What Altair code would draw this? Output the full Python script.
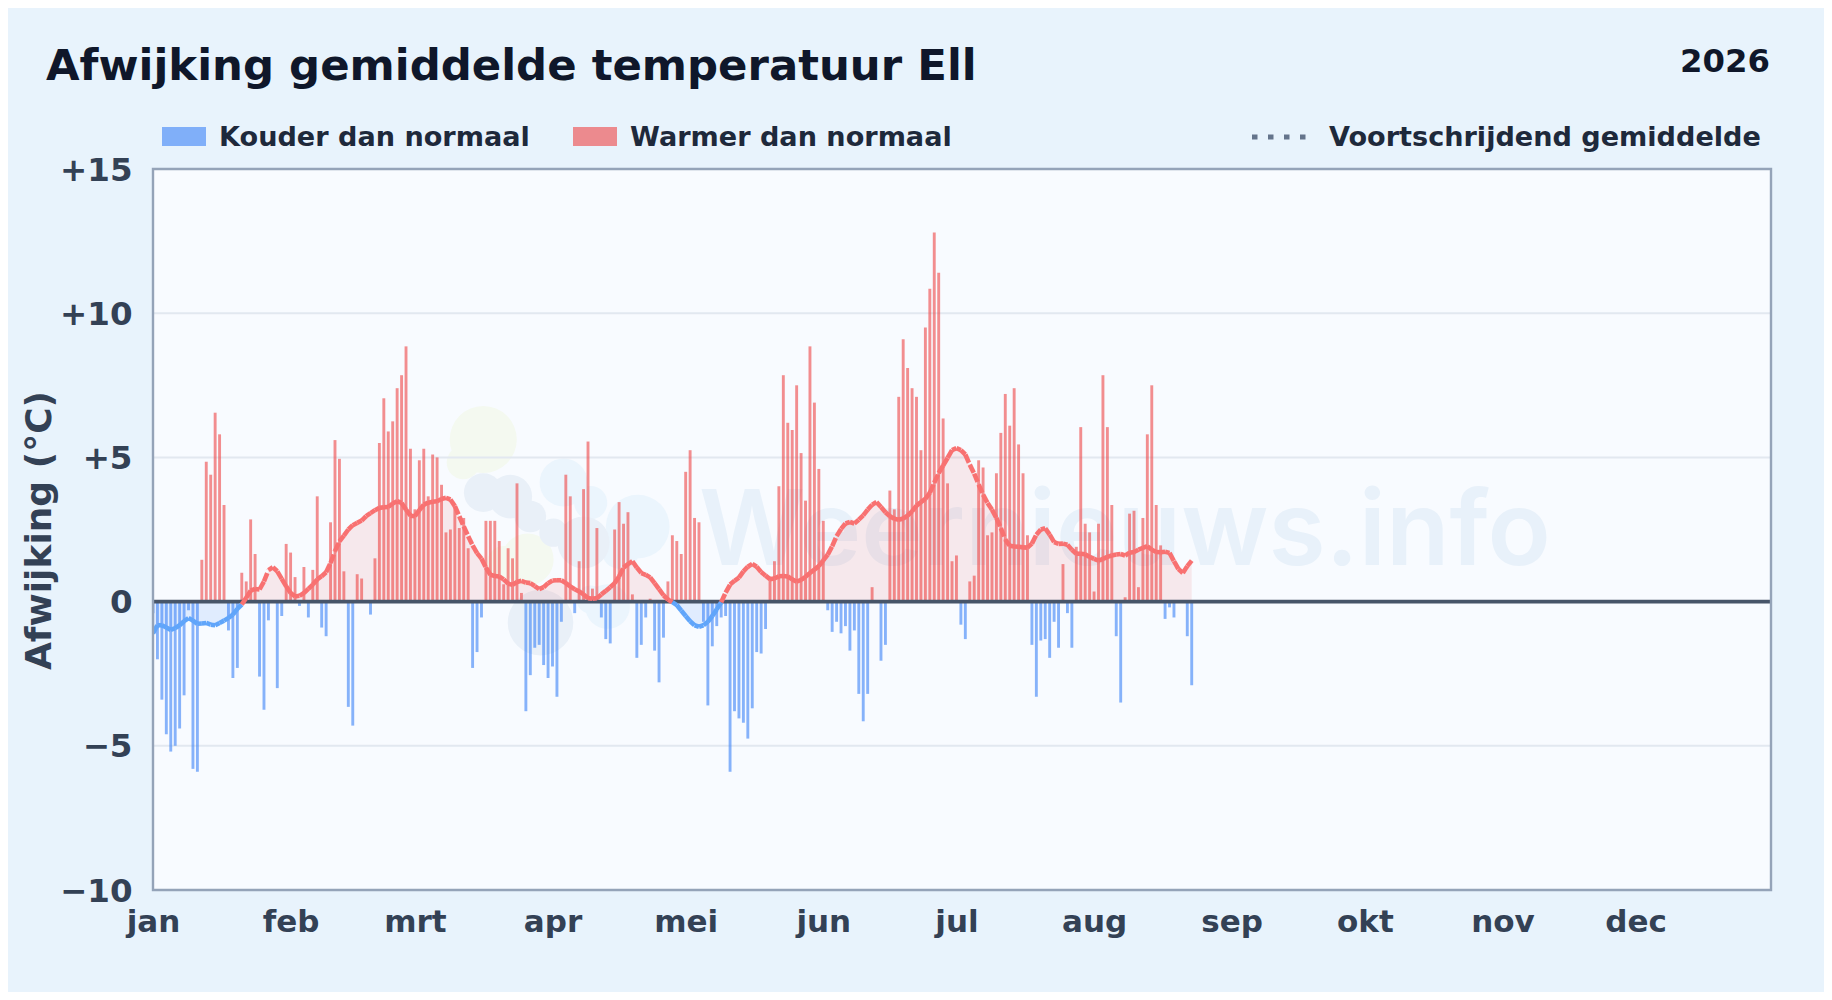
import altair as alt
import pandas as pd

# ---- values ---------------------------------------------------------------
daily_anomaly = [
 -0.4,-2.0,-3.4,-4.6,-5.2,-5.0,-4.4,-3.25,-0.3,-5.8,-5.9,1.45,4.85,4.4,6.55,5.8,3.35,-1.0,-2.65,-2.3,
 1.0,0.7,2.85,1.65,-2.6,-3.75,-0.65,0,-3.0,-0.5,2.0,1.7,0.85,-0.15,1.2,-0.55,1.1,3.65,-0.9,-1.2,
 2.75,5.6,4.95,1.05,-3.65,-4.3,0.95,0.8,0,-0.45,1.5,5.5,7.05,5.9,6.25,7.4,7.85,8.85,5.3,3.2,
 4.9,5.3,3.65,5.1,5.0,4.05,2.4,2.5,3.3,2.55,2.9,1.85,-2.3,-1.75,-0.55,2.8,2.8,2.8,2.1,0.6,
 1.85,1.5,4.1,0.3,-3.8,-2.55,-1.6,-1.5,-2.2,-2.65,-2.25,-3.3,-0.7,4.4,3.65,-0.4,1.4,3.9,5.55,0.45,
 2.55,-0.55,-1.3,-1.45,2.5,3.45,2.7,3.1,0.25,-1.95,-1.5,-0.55,0.1,-1.7,-2.8,-1.25,0.7,2.3,2.1,1.65,
 4.5,5.25,2.9,2.75,-0.7,-3.6,-1.55,-0.85,-0.55,-0.5,-5.9,-3.8,-4.05,-4.2,-4.75,-3.7,-1.75,-1.8,-0.95,0.8,
 1.4,4.0,7.85,6.2,5.95,7.5,5.15,3.5,8.85,6.9,4.6,2.8,-0.3,-1.05,-0.7,-1.1,-0.85,-1.7,-1.0,-3.2,
 -4.15,-3.2,0.5,0,-2.05,-1.5,3.85,3.2,7.1,9.1,8.1,7.4,7.1,5.25,9.5,10.85,12.8,11.4,6.35,4.1,
 1.4,1.6,-0.8,-1.3,0.7,0.9,4.9,4.65,2.3,2.4,4.45,5.85,7.2,6.1,7.4,5.45,4.45,2.3,-1.5,-3.3,
 -1.35,-1.3,-1.95,-0.7,-1.6,1.3,-0.4,-1.6,1.9,6.05,2.7,2.4,0.35,2.7,7.85,6.05,3.35,-1.2,-3.5,0.15,
 3.05,3.15,0.5,2.9,5.8,7.5,3.35,1.95,-0.6,-0.2,-0.55,0,0,-1.2,-2.9,
]
moving_average = [
 -1.1,-0.82,-0.82,-0.9,-0.98,-0.92,-0.82,-0.68,-0.57,-0.66,-0.77,-0.76,-0.74,-0.8,-0.82,-0.74,-0.66,-0.57,-0.45,-0.25,
 -0.1,0.13,0.38,0.44,0.42,0.7,1.09,1.19,1.05,0.79,0.53,0.3,0.18,0.2,0.3,0.44,0.59,0.77,0.88,1.02,
 1.34,1.75,2.09,2.29,2.5,2.65,2.73,2.81,2.96,3.07,3.17,3.25,3.27,3.28,3.4,3.48,3.42,3.19,2.98,2.96,
 3.17,3.36,3.43,3.46,3.48,3.56,3.6,3.54,3.31,2.96,2.61,2.27,1.95,1.68,1.49,1.18,0.93,0.89,0.87,0.77,
 0.62,0.58,0.68,0.72,0.66,0.64,0.54,0.43,0.5,0.64,0.73,0.74,0.74,0.64,0.53,0.43,0.35,0.25,0.12,0.1,
 0.12,0.25,0.37,0.5,0.64,0.87,1.18,1.3,1.4,1.18,0.99,0.93,0.84,0.64,0.43,0.22,0.07,-0.02,-0.12,-0.31,
 -0.5,-0.68,-0.82,-0.87,-0.82,-0.7,-0.5,-0.27,-0.02,0.31,0.59,0.72,0.83,1.05,1.21,1.31,1.21,1.03,0.9,0.78,
 0.8,0.88,0.89,0.87,0.77,0.69,0.75,0.86,0.99,1.11,1.23,1.43,1.63,1.92,2.27,2.52,2.71,2.76,2.71,2.84,
 2.99,3.19,3.36,3.45,3.28,3.1,2.96,2.87,2.84,2.88,2.98,3.13,3.33,3.45,3.56,3.77,4.12,4.46,4.72,4.98,
 5.25,5.32,5.25,5.1,4.75,4.44,4.06,3.71,3.42,3.19,2.9,2.55,2.15,1.94,1.91,1.9,1.88,1.87,2.01,2.32,
 2.5,2.54,2.32,2.06,2.0,2.01,1.97,1.8,1.66,1.66,1.64,1.55,1.48,1.42,1.48,1.55,1.6,1.63,1.65,1.6,
 1.69,1.72,1.8,1.86,1.92,1.8,1.72,1.71,1.73,1.69,1.4,1.13,0.99,1.23,1.42,
]
month_starts = [0, 31, 59, 90, 120, 151, 181, 212, 243, 273, 304, 334]
month_labels = ["jan", "feb", "mrt", "apr", "mei", "jun", "jul", "aug", "sep", "okt", "nov", "dec"]
y_ticks = [-10, -5, 0, 5, 10, 15]
grid_levels = [-5, 5, 10]
x_domain_end = 364.5

title_text = "Afwijking gemiddelde temperatuur Ell"
year_text = "2026"
legend_cold = "Kouder dan normaal"
legend_warm = "Warmer dan normaal"
legend_avg = "Voortschrijdend gemiddelde"
y_title = "Afwijking (°C)"
watermark = "Weernieuws.info"

# logo blobs of the faint watermark: day, degrees, size, colour
GREEN, LIGHT, SLATE = "#f4f9f0", "#ebf5fd", "#e9f0f8"
blob_day = [74.4, 69.9, 84.4, 79, 92.5, 98.6, 109.2, 105.3, 102.4, 98.6, 74.4, 80.5, 85, 90.2, 97, 87.3]
blob_deg = [5.62, 4.82, 1.46, 1.35, 4.13, 3.43, 2.6, 1.8, -0.17, 0.07, 3.78, 3.64, 2.95, 2.39, 2.05, -0.73]
blob_size = [4500, 1100, 2700, 1100, 2300, 1100, 4070, 1500, 2000, 800, 1500, 1900, 1000, 800, 2700, 4300]
blob_col = [GREEN, GREEN, GREEN, GREEN, LIGHT, LIGHT, LIGHT, LIGHT, LIGHT, LIGHT,
            SLATE, SLATE, SLATE, SLATE, SLATE, SLATE]

# ---- tables -----------------------------------------------------------------
bars = pd.DataFrame({"day": range(len(daily_anomaly)), "value": daily_anomaly})
bars = bars[bars.value != 0].copy()
bars["zero"] = 0
bars["kind"] = ["warm" if v > 0 else "cold" for v in bars.value]

ma = pd.DataFrame({"day": range(len(moving_average)), "value": moving_average})
ma["pos"] = ma.value.clip(lower=0)
ma["neg"] = ma.value.clip(upper=0)
ma["zero"] = 0

seg = pd.DataFrame({
    "day0": ma.day[:-1].values, "day1": ma.day[1:].values,
    "v0": ma.value[:-1].values, "v1": ma.value[1:].values,
})
seg["kind"] = ["warm" if a + b > 0 else "cold" for a, b in zip(seg.v0, seg.v1)]

blobs = pd.DataFrame({"day": blob_day, "deg": blob_deg, "size": blob_size, "col": blob_col})

# ---- layout (pixels) --------------------------------------------------------
FONT = "DejaVu Sans"
PLOT_W, PLOT_H = 1618, 721
LEFT, TOP = 153, 169   # page position of the plot's origin
TEXT_C = "#334155"
DARK = "#0f172a"
LEG_C = "#1e293b"

xs = alt.Scale(domain=[0, x_domain_end], nice=False, zero=False, padding=0)
ys = alt.Scale(domain=[-10, 15], nice=False, padding=0)

labels_js = "[" + ",".join(f"'{m}'" for m in month_labels) + "]"
starts_js = "[" + ",".join(str(m) for m in month_starts) + "]"

x_axis = alt.Axis(
    values=month_starts, title=None, grid=False, domain=False, ticks=False,
    labelExpr=f"{labels_js}[indexof({starts_js}, datum.value)]",
    labelFont=FONT, labelFontSize=31, labelFontWeight="bold", labelColor=TEXT_C,
    labelPadding=17, labelFlush=False, labelOverlap=False, labelBound=False, labelAngle=0,
)
y_axis = alt.Axis(
    values=y_ticks, grid=False, domain=False, ticks=False,
    labelExpr="datum.value > 0 ? '+' + datum.value : (datum.value < 0 ? '\u2212' + abs(datum.value) : '0')",
    labelFont=FONT, labelFontSize=32.5, labelFontWeight="bold", labelColor=TEXT_C,
    labelPadding=21, labelOverlap=False, labelBound=False, labelFlush=False, labelOffset=1,
    title=y_title, titleFont=FONT, titleFontSize=36, titleFontWeight="bold", titleColor=TEXT_C,
    titleX=39 - LEFT, titleY=530 - TOP, titleBaseline="middle", titleAlign="center", titleAngle=270,
)
colors = alt.Scale(domain=["warm", "cold"], range=["#ef4444", "#3b82f6"])
line_colors = alt.Scale(domain=["warm", "cold"], range=["#f87171", "#60a5fa"])

def X(field):
    return alt.X(field, scale=xs, axis=x_axis)

def Y(field, **kw):
    return alt.Y(field, scale=ys, axis=y_axis, **kw)

one = alt.Data(values=[{}])

def text(txt, px, py, size, color=LEG_C, align="left", weight="bold", font=FONT):
    return alt.Chart(one).mark_text(
        align=align, baseline="alphabetic", font=font, fontSize=size, fontWeight=weight,
        color=color,
    ).encode(x=alt.value(px - LEFT), y=alt.value(py - TOP), text=alt.value(txt))

def swatch(px0, px1, py0, py1, color):
    return alt.Chart(one).mark_rect(color=color, opacity=0.6).encode(
        x=alt.value(px0 - LEFT), x2=alt.value(px1 - LEFT),
        y=alt.value(py0 - TOP), y2=alt.value(py1 - TOP))

logo = alt.Chart(blobs).mark_circle(opacity=1).encode(
    x=X("day:Q"),
    y=Y("deg:Q"),
    size=alt.Size("size:Q", scale=None, legend=None),
    color=alt.Color("col:N", scale=None, legend=None),
)
wm = text(watermark, 699, 565, 104, color="#e8f1fa", weight=600, font="Inter")

grid = alt.Chart(pd.DataFrame({"g": grid_levels})).mark_rule(color="#e2e8f0", strokeWidth=2).encode(
    y=Y("g:Q"))

area_pos = alt.Chart(ma).mark_area(color="#ef4444", opacity=0.1).encode(
    x=X("day:Q"), y=Y("pos:Q"), y2="zero:Q")
area_neg = alt.Chart(ma).mark_area(color="#3b82f6", opacity=0.12).encode(
    x=X("day:Q"), y=Y("neg:Q"), y2="zero:Q")

bar_layer = alt.Chart(bars).mark_bar(size=2.9, opacity=0.6, clip=True).encode(
    x=X("day:Q"),
    y=Y("value:Q", stack=None),
    y2="zero:Q",
    color=alt.Color("kind:N", scale=colors, legend=None),
)

zero_rule = alt.Chart(pd.DataFrame({"z": [0]})).mark_rule(color="#475569", strokeWidth=3.8).encode(
    y=Y("z:Q"))

avg_line = alt.Chart(seg).mark_rule(strokeWidth=4.6, strokeDash=[9, 3], clip=True).encode(
    x=X("day0:Q"), x2="day1:Q",
    y=Y("v0:Q"), y2="v1:Q",
    color=alt.Color("kind:N", scale=line_colors, legend=None),
)

dots = alt.Chart(one).mark_rule(color="#64748b", strokeWidth=5, strokeDash=[5.5, 10.5]).encode(
    x=alt.value(1252 - LEFT), x2=alt.value(1308 - LEFT),
    y=alt.value(137 - TOP), y2=alt.value(137 - TOP))

border = alt.Chart(one).mark_rect(fill="transparent", stroke="#94a3b8", strokeWidth=2.4).encode(
    x=alt.value(0), x2=alt.value(PLOT_W), y=alt.value(0), y2=alt.value(PLOT_H))

chart = alt.layer(
    logo, wm, grid, area_pos, area_neg, bar_layer, zero_rule, avg_line, border,
    text(title_text, 46, 80, 43.4, color=DARK),
    text(year_text, 1770, 72, 32.3, color=DARK, align="right"),
    swatch(162, 206, 127, 146, "#3b82f6"),
    text(legend_cold, 219, 146, 27.1),
    swatch(573, 617, 127, 146, "#ef4444"),
    text(legend_warm, 630, 146, 27.1),
    dots,
    text(legend_avg, 1329, 146, 27.1),
).resolve_scale(color="independent").properties(
    width=PLOT_W, height=PLOT_H,
    background="#e8f3fc",
    padding={"left": LEFT - 8, "top": TOP - 8, "right": 1816 - (LEFT - 8) - PLOT_W, "bottom": 984 - (TOP - 8) - PLOT_H},
    autosize=alt.AutoSizeParams(type="none"),
).configure_view(strokeWidth=0, fill="#f8fbff")

chart.save("out.html", embed_options={"renderer": "svg", "actions": False})
